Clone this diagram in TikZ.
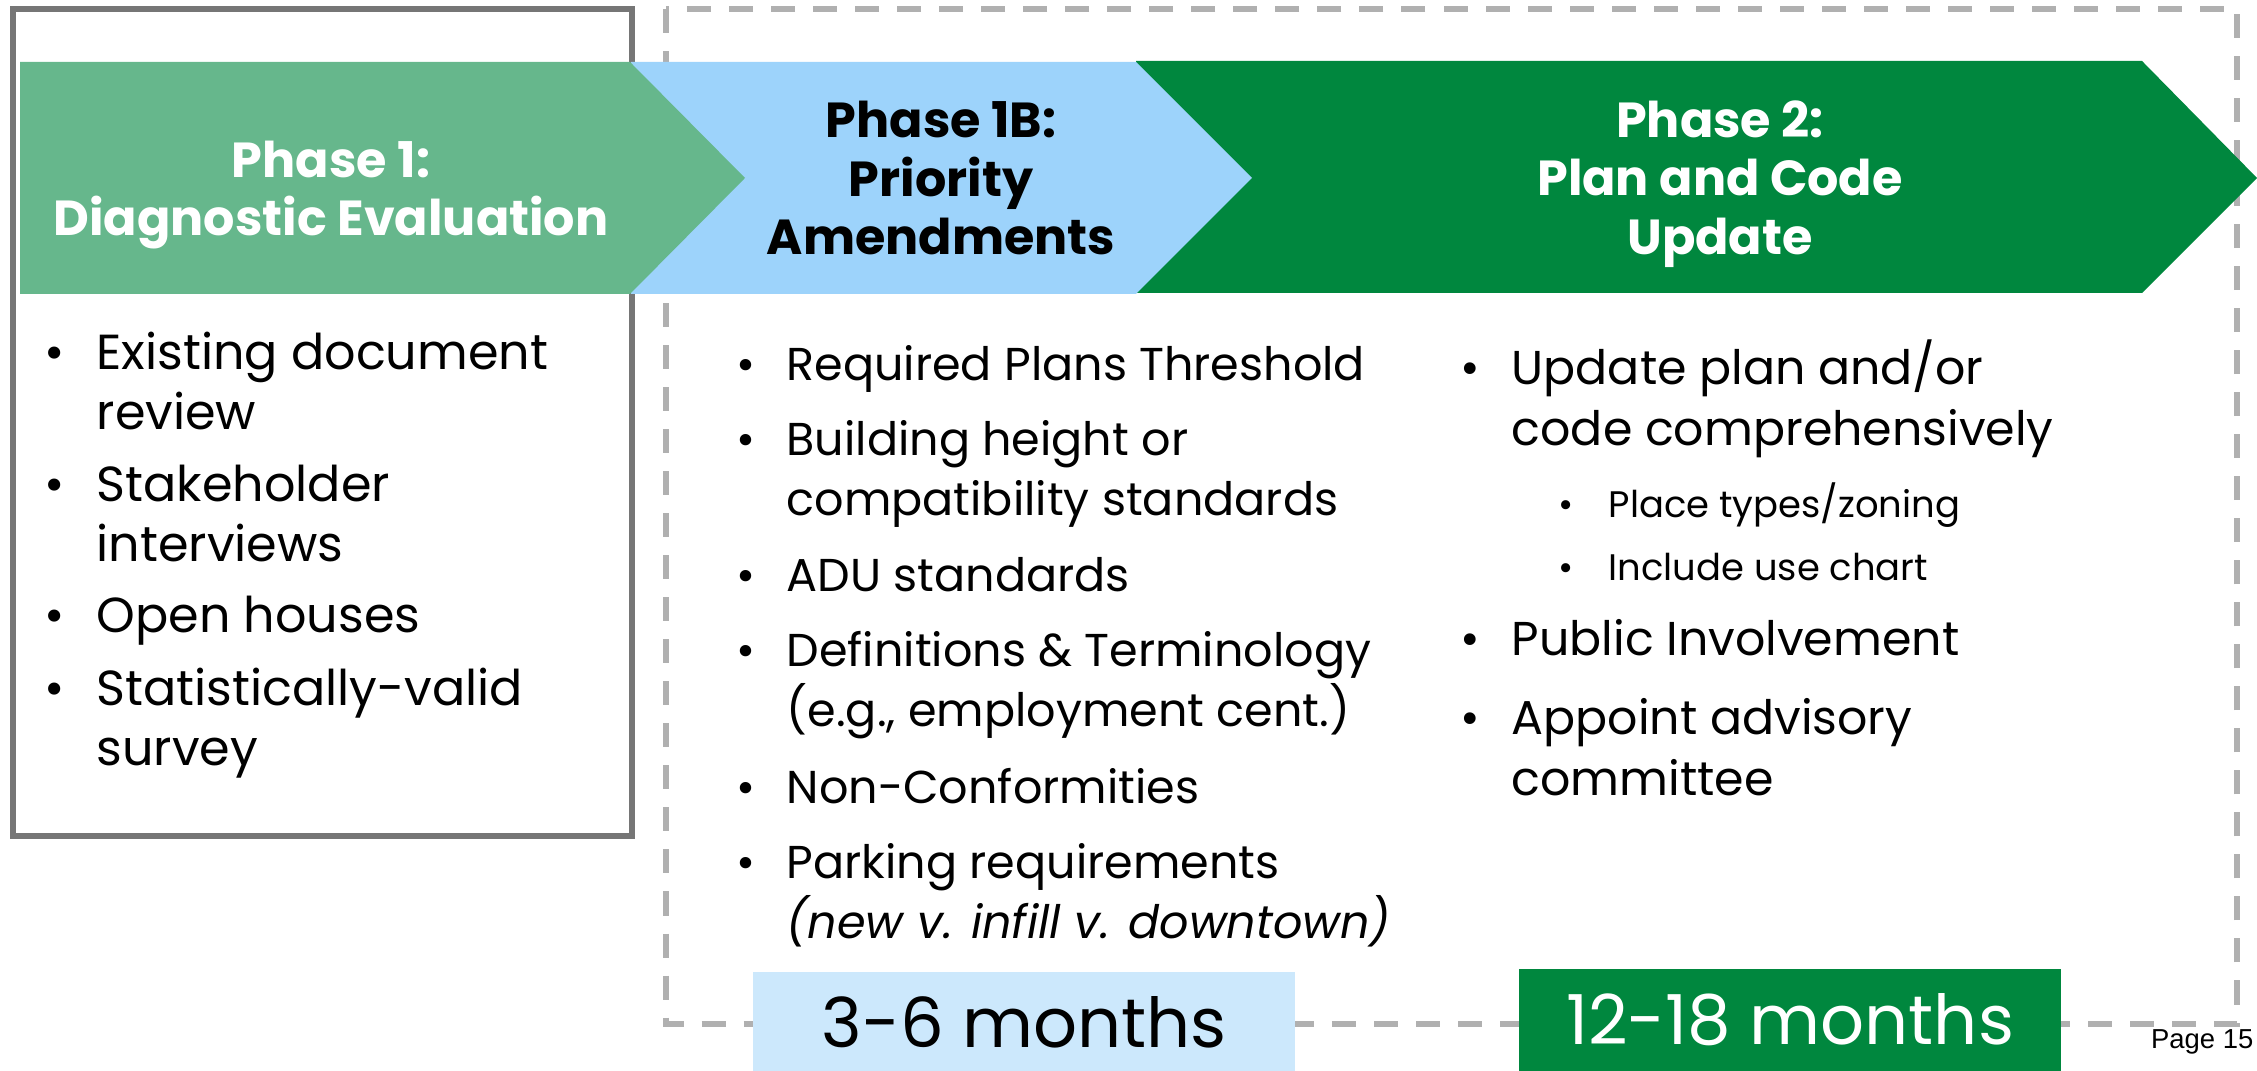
\documentclass[tikz,border=0pt]{standalone}
\usepackage{fontspec}
\setmainfont{Poppins}
\newfontfamily\pagefont{Liberation Sans}
\usetikzlibrary{positioning}

\definecolor{boxgray}{HTML}{767676}
\definecolor{dashgray}{HTML}{B0B0B0}
\definecolor{phaseone}{HTML}{66B78C}
\definecolor{phaseoneb}{HTML}{9DD3FB}
\definecolor{phasetwo}{HTML}{00873E}
\definecolor{monthblue}{HTML}{CCE8FC}

\newcommand{\bul}{\llap{\textbullet\hspace{9pt}}}
\newcommand{\subbul}{\llap{\textbullet\hspace{10pt}}}

% anchor=base west: for several lines, the base is the last line
\tikzset{
  head/.style={align=center, inner sep=0pt, font=\bfseries\fontsize{14}{16.7}\selectfont},
  item/.style={anchor=base west, align=left, inner sep=0pt, font=\fontsize{14}{17.1}\selectfont},
  smallitem/.style={item, font=\fontsize{13.1}{17.1}\selectfont},
  rightitem/.style={item, font=\fontsize{13.5}{17.6}\selectfont},
  subitem/.style={item, font=\fontsize{10.5}{13}\selectfont},
  months/.style={minimum width=5.42cm, minimum height=1cm, inner sep=0pt, font=\fontsize{19.6}{24}\selectfont}
}

\begin{document}
\begin{tikzpicture}[x=0.01cm, y=-0.01cm]
\useasboundingbox (0,0) rectangle (2257,1071);

% frames
\draw[boxgray, line width=1.7pt] (13,9) rectangle (632,836);
\draw[dashgray, line width=1.6pt, dash pattern=on 0.24cm off 0.18cm] (666,9) rectangle (2237,1024);

% arrows
\fill[phasetwo] (1136,61) -- (2142,61) -- (2257,178) -- (2142,293) -- (1136,293) -- cycle;
\fill[phaseoneb] (631,62) -- (1136,62) -- (1252,178) -- (1136,294) -- (631,294) -- cycle;
\fill[phaseone] (20,62) -- (630,62) -- (745,178) -- (630,294) -- (20,294) -- cycle;

\node[head, white] (p1) at (331,195) {Phase 1:\\Diagnostic Evaluation};
\node[head] (p1b) at (941,178) {Phase 1B:\\Priority\\Amendments};
\node[head, white] (p2) at (1720,184) {Phase 2:\\Plan and Code\\Update};

% phase 1 list
\node[item] (a1) at (96,430) {\bul Existing document\\review};
\node[item] (a2) at (96,562) {\bul Stakeholder\\interviews};
\node[item] (a3) at (96,633) {\bul Open houses};
\node[item] (a4) at (96,766) {\bul Statistically-valid\\survey};

% phase 1B list
\node[smallitem] (b1) at (786,381) {\bul Required Plans Threshold};
\node[smallitem] (b2) at (786,516) {\bul Building height or\\compatibility standards};
\node[smallitem] (b3) at (786,592) {\bul ADU standards};
\node[smallitem] (b4) at (786,727) {\bul Definitions \& Terminology\\(e.g., employment cent.)};
\node[smallitem] (b5) at (786,804) {\bul Non-Conformities};
\node[smallitem] (b6) at (786,939) {\bul Parking requirements\\\textit{(new v. infill v. downtown)}};

% phase 2 list
\node[rightitem] (c1) at (1511,446) {\bul Update plan and/or\\code comprehensively};
\node[subitem] (c2) at (1608,518) {\subbul Place types/zoning};
\node[subitem] (c3) at (1608,581) {\subbul Include use chart};
\node[rightitem] (c4) at (1511,656) {\bul Public Involvement};
\node[rightitem] (c5) at (1511,796) {\bul Appoint advisory\\committee};

% durations
\node[months, fill=monthblue] (m1) at (1024,1022) {3-6 months};
\node[months, fill=phasetwo, text=white, minimum height=1.01cm] (m2) at (1790,1020) {12-18 months};

\node[anchor=east, inner sep=0pt, font=\pagefont\fontsize{7.8}{9}\selectfont] (pg) at (2254,1042) {Page 15};
\end{tikzpicture}
\end{document}
